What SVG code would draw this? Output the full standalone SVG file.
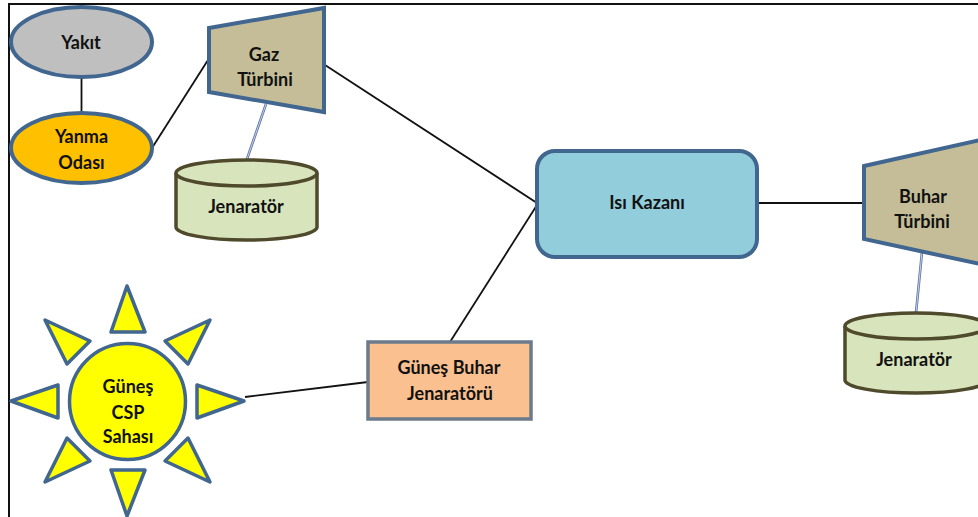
<svg xmlns="http://www.w3.org/2000/svg" width="978" height="517" viewBox="0 0 978 517">
<style>
.s{stroke:#41668f;stroke-width:4;stroke-linejoin:miter}
.sun{fill:#ffff00;stroke:#41668f;stroke-width:3.500;stroke-linejoin:round}
.g{fill:#d8e4bc;stroke:#4f4a2c;stroke-width:3.500}
.c{stroke:#111;stroke-width:1.800;fill:none}
.d{stroke:#5f74a8;stroke-width:2.600;fill:none}
.d2{stroke:#dfe6f2;stroke-width:.8;fill:none}
text{font-family:"Lato","Liberation Sans",sans-serif;font-weight:700;font-size:18px;fill:#111;text-anchor:middle}
</style>
<rect width="978" height="517" fill="#fff"/>
<path d="M9 517V4H978" fill="none" stroke="#111" stroke-width="2"/>
<g id="connectors">
<path class="c" d="M81.500 77V113"/>
<path class="c" d="M152 148L208 60"/>
<path class="c" d="M325 65L537 203"/>
<path class="c" d="M757 203H864"/>
<path class="c" d="M450 342L537 205"/>
<path class="c" d="M245 397L368 382"/>
<path class="d" d="M266 104L247 159"/><path class="d2" d="M266 104L247 159"/>
<path class="d" d="M922 252L916 313"/><path class="d2" d="M922 252L916 313"/>
</g>
<g id="yakit"><ellipse class="s" cx="81.500" cy="42" rx="70.500" ry="35" fill="#bfbfbf"/><text x="81" y="49">Yakıt</text></g>
<g id="yanma-odasi"><ellipse class="s" cx="81.500" cy="148" rx="70.500" ry="35" fill="#ffc000"/><text x="81.500" y="143">Yanma</text><text x="81.500" y="169">Odası</text></g>
<g id="gaz-turbini"><path class="s" d="M209 28L324 8V112L209 92Z" fill="#c4bd97"/><text x="264" y="61">Gaz</text><text x="265" y="86">Türbini</text></g>
<g id="jenerator-1"><path class="g" d="M176 173V227C176 234 207 240 246.500 240S317 234 317 227V173"/><ellipse class="g" cx="246.500" cy="173" rx="70.500" ry="13"/><text x="246" y="213">Jenaratör</text></g>
<g id="isi-kazani"><rect class="s" x="537" y="151" width="220" height="106" rx="18" fill="#92cddc"/><text x="647" y="209">Isı Kazanı</text></g>
<g id="buhar-turbini"><path class="s" d="M864 166L980 140V264L864 239Z" fill="#c4bd97"/><text x="923" y="203">Buhar</text><text x="922" y="228">Türbini</text></g>
<g id="jenerator-2"><path class="g" d="M845 326V380C845 387 876 393 916 393S987 387 987 380V326"/><ellipse class="g" cx="916" cy="326" rx="71" ry="13"/><text x="914" y="366">Jenaratör</text></g>
<g id="gunes-buhar"><rect x="368" y="342" width="163" height="77" fill="#fac090" stroke="#6b7b8c" stroke-width="3.500"/><text x="449" y="374">Güneş Buhar</text><text x="450" y="400">Jenaratörü</text></g>
<g id="gunes-csp">
<path class="sun" d="M127 286L111 332H145Z"/>
<path class="sun" d="M127 516L111 470H145Z"/>
<path class="sun" d="M244 401L197 385V418Z"/>
<path class="sun" d="M11 401L58 385V418Z"/>
<path class="sun" d="M45 320L90 341L67 364Z"/>
<path class="sun" d="M210 320L165 341L188 364Z"/>
<path class="sun" d="M45 482L90 461L67 438Z"/>
<path class="sun" d="M210 482L165 461L188 438Z"/>
<circle class="sun" cx="127.500" cy="401.500" r="58"/>
<text x="128" y="393">Güneş</text><text x="128" y="419">CSP</text><text x="128" y="443">Sahası</text>
</g>
</svg>
